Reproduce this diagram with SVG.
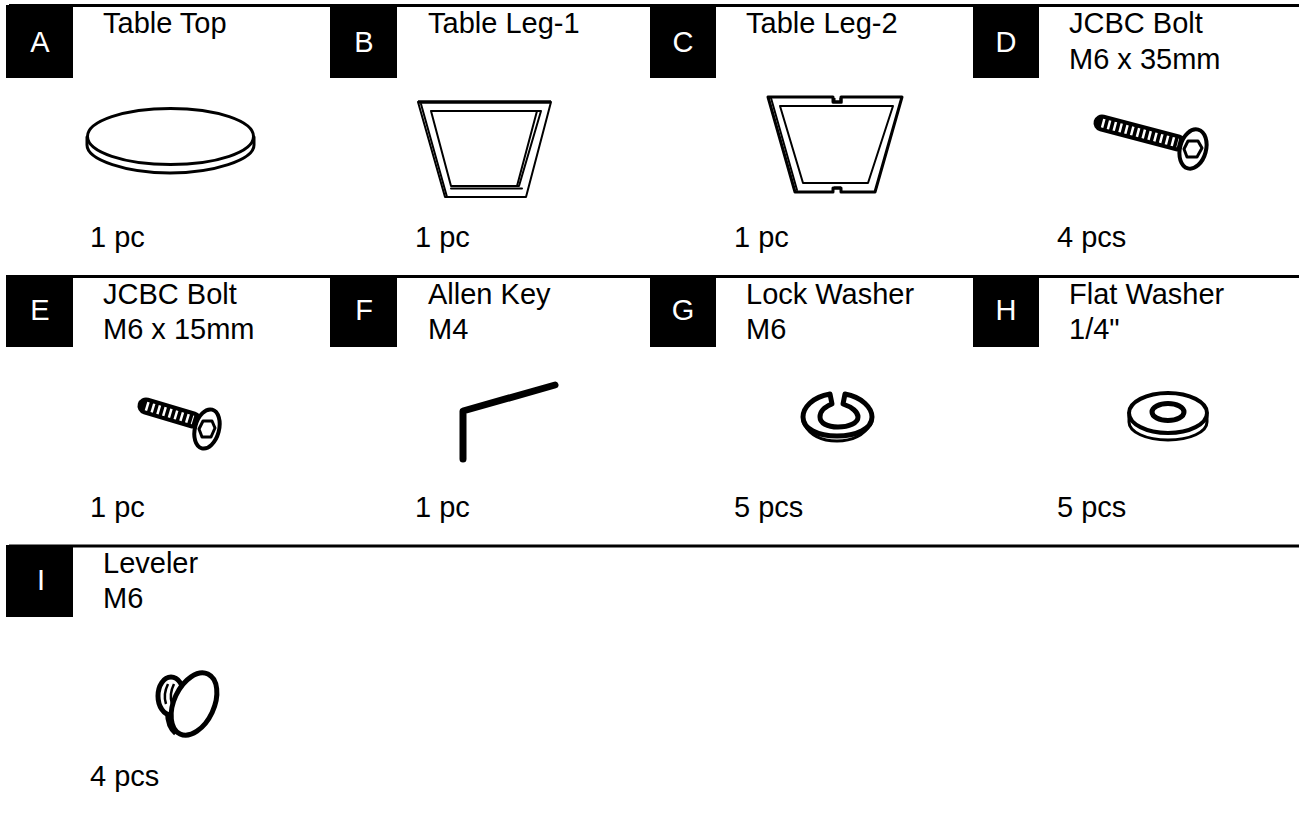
<svg xmlns="http://www.w3.org/2000/svg" width="1299" height="814" viewBox="0 0 1299 814">
<style>
text{font-family:"Liberation Sans",Arial,sans-serif;font-size:29px;fill:#000}
.k{fill:#fff;text-anchor:middle}
.b{fill:#000}
.l{stroke:#000;stroke-width:3;fill:none}
.d{stroke:#000;stroke-width:2;fill:none;stroke-linejoin:round;stroke-linecap:round}
.t{stroke:#000;stroke-width:3;fill:none;stroke-linejoin:round;stroke-linecap:round}
.f{stroke:#000;stroke-width:4;fill:#fff;stroke-linejoin:round}
.thr{stroke:#000;stroke-linecap:round;fill:none}
.gap{stroke:#fff;fill:none;stroke-width:9;stroke-dasharray:2.500 3.500}
</style>
<rect width="1299" height="814" fill="#fff"/>
<g id="rules">
<path class="l" d="M9 5.500H1299M9 276.500H1299M9 546H1299"/>
</g>
<g id="A"><rect class="b" x="6" y="5" width="67" height="73"/><text class="k" x="40" y="52">A</text>
<text x="103" y="33">Table Top</text><text x="90" y="247">1 pc</text>
<path class="t" d="M87 137V145C87 160 127 173 170 173C213 173 254 160 254 145V137"/>
<ellipse class="t" cx="170.500" cy="136.500" rx="83" ry="28"/></g>
<g id="B"><rect class="b" x="330" y="5" width="67" height="73"/><text class="k" x="364" y="52">B</text>
<text x="428" y="33">Table Leg-1</text><text x="415" y="247">1 pc</text>
<path class="d" d="M418 102H551L526 197H445Z"/><path d="M418 102H551" stroke="#000" stroke-width="3.500"/>
<path class="d" d="M421 104L447 197"/>
<path class="d" d="M431 111H541L519 186H451Z"/><path class="d" d="M537 111L517 186M451 188.500H522"/></g>
<g id="C"><rect class="b" x="650" y="5" width="66" height="73"/><text class="k" x="683" y="52">C</text>
<text x="746" y="33">Table Leg-2</text><text x="734" y="247">1 pc</text>
<path class="t" d="M768 97H833V102H841V97H902L875 192H841V188H833V192H795Z"/>
<path class="d" d="M771 98L797 190"/>
<path class="d" d="M780 106H893L868 183H803Z"/><path d="M834 98V102H841V98M834 188H841" stroke="#000" stroke-width="3" fill="none"/></g>
<g id="D"><rect class="b" x="973" y="5" width="66" height="73"/><text class="k" x="1006" y="52">D</text>
<text x="1069" y="33">JCBC Bolt</text><text x="1069" y="69">M6 x 35mm</text><text x="1057" y="247">4 pcs</text>
<path class="thr" d="M1102 123L1178 143" stroke-width="17"/>
<path class="gap" d="M1102 123L1178 143"/>
<ellipse class="f" cx="1193" cy="149" rx="13" ry="20" transform="rotate(15 1193 149)"/>
<path class="t" d="M1184 149L1188 141L1198 141L1202 148L1197 157L1187 157Z"/></g>
<g id="E"><rect class="b" x="6" y="275" width="67" height="72"/><text class="k" x="40" y="320">E</text>
<text x="103" y="304">JCBC Bolt</text><text x="103" y="339">M6 x 15mm</text><text x="90" y="517">1 pc</text>
<path class="thr" d="M146 406L193 420" stroke-width="17"/>
<path class="gap" d="M146 406L193 420"/>
<ellipse class="f" cx="207" cy="429" rx="12" ry="20" transform="rotate(15 207 429)"/>
<path class="t" d="M199 429L203 421L212 421L215 428L211 437L202 437Z"/></g>
<g id="F"><rect class="b" x="330" y="275" width="67" height="72"/><text class="k" x="364" y="320">F</text>
<text x="428" y="304">Allen Key</text><text x="428" y="339">M4</text><text x="415" y="517">1 pc</text>
<path d="M463 459V411L555 385" stroke="#000" stroke-width="7" fill="none" stroke-linecap="round" stroke-linejoin="round"/></g>
<g id="G"><rect class="b" x="650" y="275" width="66" height="72"/><text class="k" x="683" y="320">G</text>
<text x="746" y="304">Lock Washer</text><text x="746" y="339">M6</text><text x="734" y="517">5 pcs</text>
<path class="t" d="M804 424C810 435 822 441 837 441C852 441 864 435 871 424"/>
<path d="M830 394C812 397 803 408 803 417C803 429 818 436 837 436C856 436 872 429 872 417C872 408 862 397 845 394L843 404C852 407 858 412 858 417C858 423 849 427 838 427C827 427 820 423 820 417C820 412 824 407 832 404Z" fill="#fff" stroke="#000" stroke-width="5" stroke-linejoin="round"/></g>
<g id="H"><rect class="b" x="973" y="275" width="66" height="72"/><text class="k" x="1006" y="320">H</text>
<text x="1069" y="304">Flat Washer</text><text x="1069" y="339">1/4"</text><text x="1057" y="517">5 pcs</text>
<path class="t" d="M1129 415V422C1129 432 1146 440 1168 440C1190 440 1207 432 1207 422V415"/>
<ellipse class="f" cx="1168" cy="413" rx="39" ry="20"/><ellipse cx="1168" cy="412" rx="16" ry="8.500" fill="#fff" stroke="#000" stroke-width="5"/></g>
<g id="I"><rect class="b" x="6" y="545" width="67" height="72"/><text class="k" x="41" y="590">I</text>
<text x="103" y="573">Leveler</text><text x="103" y="608">M6</text><text x="90" y="786">4 pcs</text>
<ellipse cx="171" cy="696" rx="13" ry="19" fill="#fff" stroke="#000" stroke-width="5"/>
<path d="M168 684C165 690 164 698 166 704M174 684C171 690 170 698 172 704" stroke="#000" stroke-width="2.500" fill="none"/>
<path d="M168 712C168 722 170 728 176 733" stroke="#000" stroke-width="6" fill="none"/>
<ellipse cx="194" cy="704" rx="20" ry="33" fill="#fff" stroke="#000" stroke-width="5" transform="rotate(25 194 704)"/></g>
</svg>
